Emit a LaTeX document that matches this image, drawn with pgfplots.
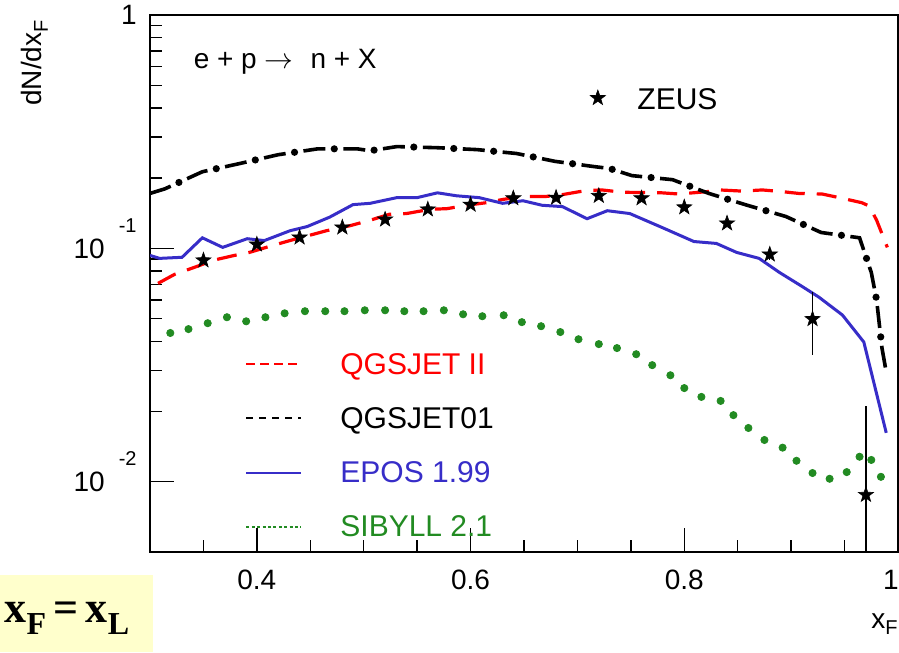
\documentclass[border=0pt]{standalone}
\usepackage{fontspec}
\setmainfont{Liberation Sans}
\newfontfamily\tnr{Liberation Serif}
\usepackage{pgfplots}
\pgfplotsset{compat=1.18}
\usepackage{xcolor}

\definecolor{eposblue}{RGB}{55,45,200}
\definecolor{sibgreen}{RGB}{34,139,34}
\definecolor{notebox}{RGB}{255,255,204}

% filled five-pointed star for the ZEUS points
\pgfdeclareplotmark{fstar}{%
  \pgfpathmoveto{\pgfpointpolar{90}{\pgfplotmarksize}}%
  \pgfpathlineto{\pgfpointpolar{126}{0.4*\pgfplotmarksize}}%
  \pgfpathlineto{\pgfpointpolar{162}{\pgfplotmarksize}}%
  \pgfpathlineto{\pgfpointpolar{198}{0.4*\pgfplotmarksize}}%
  \pgfpathlineto{\pgfpointpolar{234}{\pgfplotmarksize}}%
  \pgfpathlineto{\pgfpointpolar{270}{0.4*\pgfplotmarksize}}%
  \pgfpathlineto{\pgfpointpolar{306}{\pgfplotmarksize}}%
  \pgfpathlineto{\pgfpointpolar{342}{0.4*\pgfplotmarksize}}%
  \pgfpathlineto{\pgfpointpolar{18}{\pgfplotmarksize}}%
  \pgfpathlineto{\pgfpointpolar{54}{0.4*\pgfplotmarksize}}%
  \pgfpathclose
  \pgfusepathqfillstroke}

\newcommand{\sub}[1]{\raisebox{-3pt}{\fontsize{10}{10}\selectfont #1}}
\newcommand{\expo}[1]{\smash{\raisebox{13pt}{\fontsize{10}{10}\selectfont #1}}}

\begin{document}
\begin{tikzpicture}
\begin{axis}[
  name=ax,
  scale only axis,
  width=374pt, height=268.5pt,
  xmin=0.3, xmax=1, ymode=log, ymin=0.005, ymax=1,
  axis line style={line width=0.8pt},
  tick align=inside, xtick pos=left, ytick pos=left,
  major tick length=12pt, minor tick length=6pt,
  every tick/.style={black, line width=0.7pt},
  xtick={0.4,0.6,0.8,1}, xticklabels={0.4,0.6,0.8,\hspace{-7pt}1},
  minor xtick={0.35,0.45,0.5,0.55,0.65,0.7,0.75,0.85,0.9,0.95},
  ytick={0.01,0.1,1},
  yticklabels={10\hspace{7pt}\expo{-2}\hspace{9pt},10\hspace{7pt}\expo{-1}\hspace{9pt},1\hspace{8pt}},
  ticklabel style={font=\fontsize{14}{16}\selectfont},
  yticklabel style={inner sep=0pt, xshift=-6.5pt},
  xticklabel style={inner sep=0pt, yshift=-9pt},
  xlabel={x\sub{F}},
  xlabel style={at={(rel axis cs:1,0)}, anchor=north east, inner sep=0pt, yshift=-30.5pt, font=\fontsize{14}{16}\selectfont},
  ylabel={dN/dx\sub{F}},
  ylabel style={at={(rel axis cs:-0.154,0.991)}, anchor=east, inner sep=0pt, font=\fontsize{14}{16}\selectfont},
  legend image code/.code={\draw[#1] (0pt,0pt) -- (27.5pt,0pt);},
  legend cell align=left,
  legend style={draw=none, fill=none, inner sep=0pt,
    at={(rel axis cs:0.127,0.376)}, anchor=north west,
    font=\fontsize{15}{18}\selectfont, row sep=13pt,
    nodes={inner sep=1pt, text height=11pt, text depth=1pt},
    /tikz/every odd column/.append style={column sep=18pt}},
]
% QGSJET II
\addplot[red, line width=1.6pt, dash pattern=on 10pt off 6pt, forget plot] table {
x y
0.3075 0.0708
0.323 0.0774
0.344 0.0837
0.359 0.0889
0.379 0.0933
0.393 0.0961
0.415 0.103
0.434 0.109
0.450 0.114
0.465 0.119
0.487 0.125
0.506 0.132
0.524 0.140
0.540 0.141
0.562 0.147
0.578 0.148
0.596 0.153
0.615 0.157
0.630 0.162
0.649 0.167
0.671 0.167
0.686 0.170
0.708 0.177
0.723 0.178
0.742 0.174
0.779 0.173
0.795 0.171
0.821 0.175
0.833 0.178
0.854 0.176
0.873 0.178
0.892 0.175
0.907 0.172
0.929 0.171
0.945 0.165
0.966 0.157
0.973 0.152
0.980 0.132
0.990 0.101
};
% QGSJET01: dashes, then the dots on the same path
\pgfplotstableread{
x y
0.300 0.172
0.314 0.180
0.349 0.213
0.384 0.231
0.420 0.252
0.457 0.267
0.494 0.267
0.506 0.262
0.531 0.273
0.569 0.270
0.606 0.265
0.643 0.255
0.679 0.236
0.716 0.224
0.730 0.220
0.751 0.205
0.789 0.197
0.823 0.172
0.859 0.153
0.895 0.137
0.928 0.117
0.964 0.111
0.975 0.0789
0.980 0.060
0.985 0.0374
0.989 0.0295
}\qgsone
\addplot[black, line width=1.8pt, dash pattern=on 11pt off 9pt, forget plot] table {\qgsone};
\addplot[black, line width=3.6pt, line cap=round, dash pattern=on 0pt off 20pt, dash phase=4.5pt, forget plot] table {\qgsone};
% EPOS 1.99
\addplot[eposblue, line width=1.5pt, forget plot] table {
x y
0.300 0.0933
0.309 0.0906
0.330 0.0916
0.349 0.111
0.368 0.101
0.391 0.110
0.407 0.108
0.431 0.119
0.447 0.124
0.468 0.136
0.490 0.154
0.506 0.156
0.531 0.165
0.550 0.165
0.569 0.173
0.587 0.168
0.608 0.165
0.630 0.156
0.649 0.160
0.667 0.153
0.686 0.151
0.709 0.134
0.728 0.145
0.749 0.141
0.779 0.123
0.809 0.107
0.830 0.105
0.849 0.0961
0.870 0.0906
0.889 0.0789
0.910 0.0688
0.926 0.0618
0.948 0.0518
0.968 0.0397
0.989 0.0162
};
% SIBYLL 2.1
\addplot[only marks, mark=*, mark size=1.8pt, sibgreen, mark options={draw=sibgreen, fill=sibgreen}, forget plot] table {
x y
0.319 0.0434
0.336 0.0451
0.354 0.0478
0.372 0.0507
0.390 0.0487
0.408 0.0507
0.426 0.0527
0.445 0.0538
0.464 0.0538
0.482 0.0538
0.501 0.0543
0.520 0.0543
0.538 0.0538
0.556 0.0538
0.575 0.0543
0.593 0.0522
0.611 0.0512
0.631 0.0517
0.648 0.0483
0.666 0.0464
0.684 0.0438
0.701 0.0408
0.720 0.0389
0.737 0.0374
0.755 0.0352
0.770 0.0316
0.787 0.0286
0.800 0.0252
0.816 0.0231
0.834 0.0222
0.846 0.0193
0.860 0.0170
0.875 0.0151
0.892 0.0140
0.905 0.0123
0.920 0.0109
0.936 0.0103
0.952 0.0110
0.964 0.0128
0.975 0.0124
0.984 0.0105
};
\addlegendimage{draw=red, line width=1pt, dash pattern=on 4.5pt off 2.5pt}
\addlegendentry{\textcolor{red}{QGSJET II}}
\addlegendimage{draw=black, line width=1pt, dash pattern=on 3.5pt off 3pt}
\addlegendentry{QGSJET01}
\addlegendimage{draw=eposblue, line width=1pt}
\addlegendentry{\textcolor{eposblue}{EPOS 1.99}}
\addlegendimage{draw=sibgreen, line width=1pt, dash pattern=on 1.5pt off 1.2pt}
\addlegendentry{\textcolor{sibgreen}{SIBYLL 2.1}}
\node[anchor=west, inner sep=0pt, font=\fontsize{14}{16}\selectfont] at (rel axis cs:0.058,0.912) {e + p $\rightarrow$\,\, n + X};
\end{axis}

% ZEUS data on an overlaid axis so it has a legend of its own
\begin{axis}[
  scale only axis, hide axis,
  width=374pt, height=268.5pt,
  xmin=0.3, xmax=1, ymode=log, ymin=0.005, ymax=1,
  legend image code/.code={\draw[#1] plot coordinates {(4pt,0pt)};},
  legend style={draw=none, fill=none, inner sep=0pt,
    at={(rel axis cs:0.588,0.8454)}, anchor=west,
    font=\fontsize{15}{18}\selectfont,
    nodes={inner sep=1pt, text height=11pt, text depth=0pt},
    /tikz/every odd column/.append style={column sep=15pt}},
]
\addplot[only marks, mark=fstar, mark size=4pt, black, mark options={fill=black, line width=0.3pt},
  error bars/.cd, y dir=both, y explicit, error mark=none,
  error bar style={black, line width=0.7pt}]
  table[x=x, y=y, y error plus=ep, y error minus=em] {
x y ep em
0.35 0.0889 0 0
0.40 0.104 0 0
0.44 0.1114 0 0
0.48 0.123 0 0
0.52 0.133 0 0
0.56 0.147 0 0
0.60 0.154 0 0
0.64 0.164 0 0
0.68 0.165 0 0
0.72 0.168 0 0
0.76 0.164 0 0
0.80 0.150 0 0
0.84 0.128 0 0
0.88 0.0942 0.005 0.005
0.92 0.0498 0.0150 0.0149
0.97 0.00879 0.0123 0.0058
};
\addlegendentry{ZEUS}
\end{axis}

\fill[notebox] ([xshift=-75pt,yshift=-50pt]ax.south west) rectangle ([xshift=1.5pt,yshift=-11.5pt]ax.south west);
\node[inner sep=0pt] at ([xshift=-41.5pt,yshift=-33pt]ax.south west)
  {\tnr\bfseries\fontsize{22}{24}\selectfont x\raisebox{-6pt}{\fontsize{16}{16}\selectfont F}\,=\,x\raisebox{-6pt}{\fontsize{16}{16}\selectfont L}};

\pgfresetboundingbox
\path[use as bounding box] ([xshift=-75pt,yshift=-50pt]ax.south west) rectangle ([xshift=0.5pt,yshift=7.5pt]ax.north east);
\end{tikzpicture}
\end{document}
